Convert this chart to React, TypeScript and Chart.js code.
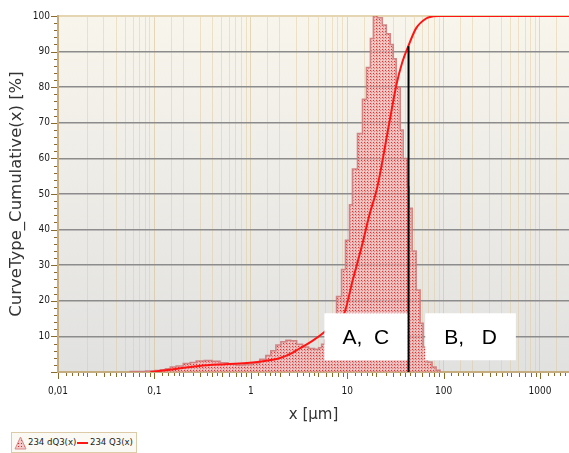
import React, { useEffect, useRef } from 'react';
import { Chart, registerables } from 'chart.js';
Chart.register(...registerables);

// Histogram dQ3(x): left bin edges in µm and bar heights
const histEdges = [0.056, 0.081, 0.102, 0.115, 0.13, 0.146, 0.168, 0.199, 0.235, 0.271, 0.328, 0.396, 0.48, 0.58, 0.702, 0.849, 1.03, 1.24, 1.43, 1.61, 1.82, 2.05, 2.31, 2.6, 2.99, 3.45, 3.98, 4.59, 5.05, 5.43, 5.83, 6.41, 7.05, 7.75, 8.73, 9.6, 10.56, 11.34, 12.78, 14.39, 15.83, 17.41, 18.69, 20.56, 23.15, 25.47, 28.01, 30.08, 32.3, 35.53, 38.15, 41.97, 44.02, 47.27, 51.99, 57.18, 61.41, 67.53, 76.06, 83.66];
const histValues = [0.15, 0.25, 0.4, 0.6, 0.9, 1.4, 1.7, 2.4, 2.7, 3.1, 3.2, 3.0, 2.6, 2.2, 2.0, 2.1, 2.5, 3.6, 4.6, 6.0, 7.6, 8.5, 8.9, 8.8, 7.8, 7.0, 6.6, 6.4, 6.8, 7.8, 9, 12, 15.5, 21.2, 28.8, 37, 47, 57, 67, 76.6, 85.5, 93.7, 100, 99.5, 97.5, 95, 92, 88, 80, 68, 60, 52, 46, 34, 23, 13.7, 7, 2.8, 1.4, 0.5];
const histEnd = 92;

// Cumulative Q3(x)
const cumX = [0.0908, 0.13, 0.194, 0.291, 0.54, 0.98, 1.4, 1.95, 2.54, 3.21, 4.28, 5.56, 7.39, 9.38, 11.34, 14.39, 16.96, 20.56, 27.35, 32.3, 37.27, 42.98, 51.99, 65.9, 77.9, 89.85, 2000];
const cumY = [0, 0.5, 1.1, 1.7, 2.2, 2.6, 3.1, 3.8, 5.0, 6.6, 8.6, 10.8, 13.8, 16.7, 25.5, 36, 44, 52, 70, 80.5, 87, 91.5, 96.6, 99.3, 99.9, 100, 100];

// Vertical marker
const markerX = 43.3;
const markerTop = 91.5;

// Axis ticks
const xTickValues = [0.01, 0.1, 1, 10, 100, 1000];
const xTickLabels = ['0,01', '0,1', '1', '10', '100', '1000'];
const yTickValues = [10, 20, 30, 40, 50, 60, 70, 80, 90, 100];
const yTickLabels = ['10', '20', '30', '40', '50', '60', '70', '80', '90', '100'];

// Annotation boxes
const boxLabels = ['A,  C', 'B,   D'];
const boxX0 = [5.8, 64.5];
const boxX1 = [42, 562];
const boxY0 = [3.3, 3.3];
const boxY1 = [16.5, 16.5];

const legendLabels = ['234 dQ3(x)', '234 Q3(x)'];

export default function App() {
  const ref = useRef<HTMLCanvasElement>(null);

  useEffect(() => {
    const canvas = ref.current!;
    const pc = document.createElement('canvas');
    pc.width = 3;
    pc.height = 3;
    const p = pc.getContext('2d')!;
    p.fillStyle = 'rgba(236,160,160,0.62)';
    p.fillRect(0, 0, 3, 3);
    p.fillStyle = 'rgba(250,230,230,0.5)';
    p.fillRect(0, 0, 1, 1);
    p.fillStyle = 'rgba(232,40,40,0.95)';
    p.fillRect(1, 1, 1, 1);
    p.fillStyle = 'rgba(225,90,90,0.6)';
    p.fillRect(2, 2, 1, 1);
    const pattern = canvas.getContext('2d')!.createPattern(pc, 'repeat') as CanvasPattern;

    const histData = histEdges.map((x, i) => ({ x, y: histValues[i] }));
    const histPts = [{ x: histEdges[0], y: 0 }, ...histData, { x: histEnd, y: 0 }];
    const cumPts = cumX.map((x, i) => ({ x, y: cumY[i] }));
    const markerPts = [{ x: markerX, y: 0 }, { x: markerX, y: markerTop }];

    const isDecade = (v: number) => Math.abs(Math.log10(v) - Math.round(Math.log10(v))) < 1e-6;

    const bgPlugin = {
      id: 'bg',
      beforeDraw(chart: any) {
        const { ctx, chartArea: a } = chart;
        const g = ctx.createLinearGradient(0, a.top, 0, a.bottom);
        g.addColorStop(0, '#f8f5ec');
        g.addColorStop(1, '#e1e1e0');
        ctx.save();
        ctx.fillStyle = g;
        ctx.fillRect(a.left, a.top, a.right - a.left, a.bottom - a.top);
        ctx.restore();
      },
    };

    const ticksPlugin = {
      id: 'minorTicks',
      afterDraw(chart: any) {
        const { ctx, chartArea: a, scales } = chart;
        const x = scales.x;
        const y = scales.y;
        ctx.save();
        ctx.strokeStyle = '#8a6a2c';
        ctx.lineWidth = 1;
        ctx.beginPath();
        for (let v = 0; v <= 100; v += 2) {
          const py = Math.round(y.getPixelForValue(v)) + 0.5;
          const len = v % 10 === 0 ? 6 : 3;
          ctx.moveTo(a.left - 1 - len, py);
          ctx.lineTo(a.left - 1, py);
        }
        const mults = [1, 1.2, 1.4, 1.6, 1.8, 2, 2.5, 3, 3.5, 4, 4.5, 5, 6, 7, 8, 9];
        for (let e = -2; e <= 3; e++) {
          for (const m of mults) {
            const v = m * Math.pow(10, e);
            if (v > x.max) continue;
            const px = Math.round(x.getPixelForValue(v)) + 0.5;
            const len = m === 1 ? 6 : Number.isInteger(m) ? 4 : 3;
            ctx.moveTo(px, a.bottom + 1);
            ctx.lineTo(px, a.bottom + 1 + len);
          }
        }
        ctx.stroke();
        ctx.restore();
      },
    };

    const boxPlugin = {
      id: 'boxes',
      afterDatasetsDraw(chart: any) {
        const { ctx, scales } = chart;
        const x = scales.x;
        const y = scales.y;
        ctx.save();
        boxLabels.forEach((label, i) => {
          const l = x.getPixelForValue(boxX0[i]);
          const r = x.getPixelForValue(boxX1[i]);
          const t = y.getPixelForValue(boxY1[i]);
          const b = y.getPixelForValue(boxY0[i]);
          ctx.fillStyle = '#ffffff';
          ctx.fillRect(l, t, r - l, b - t);
          ctx.fillStyle = '#000000';
          ctx.font = '21px "Liberation Sans", Arial, sans-serif';
          ctx.textAlign = 'center';
          ctx.textBaseline = 'middle';
          ctx.fillText(label, (l + r) / 2, (t + b) / 2 + 1);
        });
        ctx.restore();
      },
    };

    const chart = new Chart(canvas, {
      type: 'line',
      data: {
        datasets: [
          {
            label: legendLabels[0],
            data: histPts,
            stepped: 'before',
            fill: 'origin',
            backgroundColor: pattern,
            borderColor: 'rgba(205,120,120,0.85)',
            borderWidth: 1.5,
            pointRadius: 0,
            order: 3,
          },
          {
            label: legendLabels[1],
            data: cumPts,
            borderColor: '#ff1414',
            borderWidth: 2,
            pointRadius: 0,
            fill: false,
            cubicInterpolationMode: 'monotone',
            order: 2,
          },
          {
            label: 'marker',
            data: markerPts,
            borderColor: '#000000',
            borderWidth: 2,
            pointRadius: 0,
            fill: false,
            order: 1,
          },
        ],
      },
      options: {
        animation: false,
        responsive: false,
        devicePixelRatio: 1,
        layout: { padding: { top: 16, bottom: 28, left: 0, right: 0 } },
        plugins: { legend: { display: false }, tooltip: { enabled: false } },
        scales: {
          x: {
            type: 'logarithmic',
            min: 0.01,
            max: 2000,
            afterFit(scale: any) {
              scale.height = 53;
              scale.paddingRight = 0;
              scale.paddingLeft = 0;
            },
            border: { display: true, color: '#c6ad80', width: 2 },
            grid: {
              drawTicks: false,
              color: (c: any) => (isDecade(c.tick.value) ? 'rgba(214,190,140,0.55)' : 'rgba(222,200,150,0.45)'),
              lineWidth: 1,
            },
            ticks: {
              autoSkip: false,
              maxRotation: 0,
              padding: 13,
              color: '#1a1a1a',
              font: { family: '"DejaVu Sans Condensed", "DejaVu Sans", sans-serif', size: 10 },
              callback: (value: any) => {
                const v = Number(value);
                const i = xTickValues.findIndex((t) => Math.abs(Math.log10(t) - Math.log10(v)) < 1e-6);
                return i >= 0 ? xTickLabels[i] : '';
              },
            },
            title: {
              display: true,
              text: 'x [µm]',
              color: '#333333',
              font: { family: '"DejaVu Sans", sans-serif', size: 15 },
              padding: { top: 0, bottom: 1 },
            },
          },
          y: {
            type: 'linear',
            min: 0,
            max: 100,
            afterFit(scale: any) {
              scale.width = 58;
              scale.paddingTop = 0;
              scale.paddingBottom = 0;
            },
            border: { display: true, color: '#c6ad80', width: 2 },
            grid: {
              drawTicks: false,
              color: (c: any) => {
                const v = c.tick.value;
                if (v === 0) return 'rgba(0,0,0,0)';
                if (v === 100) return '#e6d5b2';
                return '#8c8c8c';
              },
              lineWidth: (c: any) => (c.tick.value === 100 ? 2 : 1.5),
            },
            ticks: {
              stepSize: 10,
              padding: 8,
              color: '#1a1a1a',
              font: { family: '"DejaVu Sans Condensed", "DejaVu Sans", sans-serif', size: 10 },
              callback: (value: any) => {
                const i = yTickValues.indexOf(Number(value));
                return i >= 0 ? yTickLabels[i] : '';
              },
            },
            title: {
              display: true,
              text: 'CurveType_Cumulative(x) [%]',
              color: '#333333',
              font: { family: '"DejaVu Sans", sans-serif', size: 16.5 },
              padding: { top: 7, bottom: 0 },
            },
          },
        },
      },
      plugins: [bgPlugin, ticksPlugin, boxPlugin],
    } as any);

    return () => chart.destroy();
  }, []);

  const legendFont = '"DejaVu Sans Condensed", "DejaVu Sans", sans-serif';

  return (
    <div style={{ position: 'fixed', left: 0, top: 0, width: 569, height: 453, background: '#ffffff', overflow: 'hidden' }}>
      <canvas ref={ref} width={569} height={453} style={{ position: 'absolute', left: 0, top: 0, width: 569, height: 453 }} />
      <div
        style={{
          position: 'absolute',
          left: 11,
          top: 432,
          width: 124,
          height: 19,
          border: '1px solid #dccba6',
          background: '#fbf9f3',
          fontFamily: legendFont,
          fontSize: 9.5,
          color: '#222222',
        }}
      >
        <svg width="13" height="14" style={{ position: 'absolute', left: 2, top: 3 }}>
          <defs>
            <pattern id="dots" width="3" height="3" patternUnits="userSpaceOnUse">
              <rect width="3" height="3" fill="#f3caca" />
              <rect x="1" y="1" width="1" height="1" fill="#e82020" />
            </pattern>
          </defs>
          <polygon points="6.5,1 12,13 1,13" fill="url(#dots)" stroke="#d88a8a" strokeWidth="1" />
        </svg>
        <span style={{ position: 'absolute', left: 16, top: 3, whiteSpace: 'nowrap' }}>{legendLabels[0]}</span>
        <span style={{ position: 'absolute', left: 65, top: 9, width: 11, height: 2, background: '#ff1414' }} />
        <span style={{ position: 'absolute', left: 78, top: 3, whiteSpace: 'nowrap' }}>{legendLabels[1]}</span>
      </div>
    </div>
  );
}
